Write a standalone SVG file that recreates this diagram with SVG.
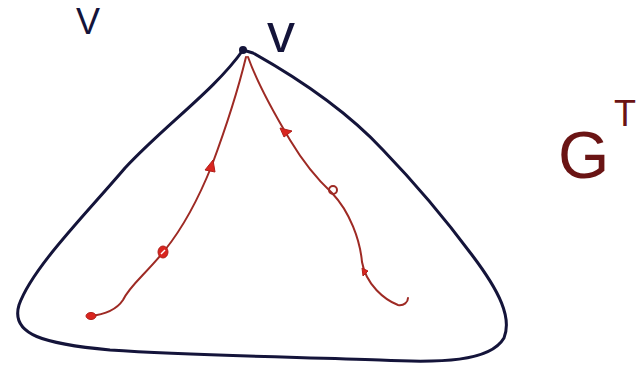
<svg xmlns="http://www.w3.org/2000/svg" width="643" height="369" viewBox="0 0 643 369">
<style>
.outline{fill:none;stroke:#14143a;stroke-width:3;stroke-linecap:round;stroke-linejoin:round}
.walk{fill:none;stroke:#9e2a24;stroke-width:2;stroke-linecap:round;stroke-linejoin:round}
.mark{fill:#d9251f;stroke:#b01f1a;stroke-width:1}
.ink{font-family:"Liberation Sans",Arial,sans-serif;fill:#14143a}
.red{font-family:"Liberation Sans",Arial,sans-serif;fill:#6a1414}
</style>
<rect width="643" height="369" fill="#ffffff"/>
<g id="label-V"><text class="ink" x="88" y="34" font-size="36" text-anchor="middle">V</text></g>
<g id="label-v"><text class="ink" x="267" y="52" font-size="56">v</text></g>
<g id="label-GT"><text class="red" x="558" y="178" font-size="66">G</text><text class="red" x="614" y="126" font-size="36">T</text></g>
<g id="tree">
<path class="outline" d="M243 50 C215 90 165 125 125 168 C85 215 32 268 19 305 C10 335 45 344 110 350 C200 356 300 357 380 360 C440 363 490 362 504 338 C512 318 500 292 472 255 C440 212 410 178 383 150 C355 120 310 85 253 53 Z"/>
<circle cx="243" cy="50" r="4" fill="#14143a"/>
</g>
<g id="walks">
<path class="walk" d="M246 57 C238 90 225 130 212 165 C200 195 185 225 165 250 C145 275 130 285 123 300 C115 312 100 315 90 316"/>
<path class="walk" d="M248 57 C258 85 275 115 290 140 C305 165 318 180 332 193 C350 212 360 240 362 262 C366 285 385 300 398 305 C404 306 408 302 408 298"/>
<path class="mark" d="M205 170 L213 160 L215 172 Z"/>
<ellipse class="mark" cx="163" cy="252" rx="5" ry="6"/>
<line x1="161" y1="254" x2="165" y2="250" stroke="#fff" stroke-width="1.5"/>
<ellipse class="mark" cx="91" cy="316" rx="5" ry="3.5"/>
<path class="mark" d="M280 128 L292 131 L284 137 Z"/>
<circle cx="333" cy="190" r="4" fill="none" stroke="#9e2a24" stroke-width="2"/>
<path class="mark" d="M362 268 L368 271 L363 276 Z"/>
</g>
</svg>
